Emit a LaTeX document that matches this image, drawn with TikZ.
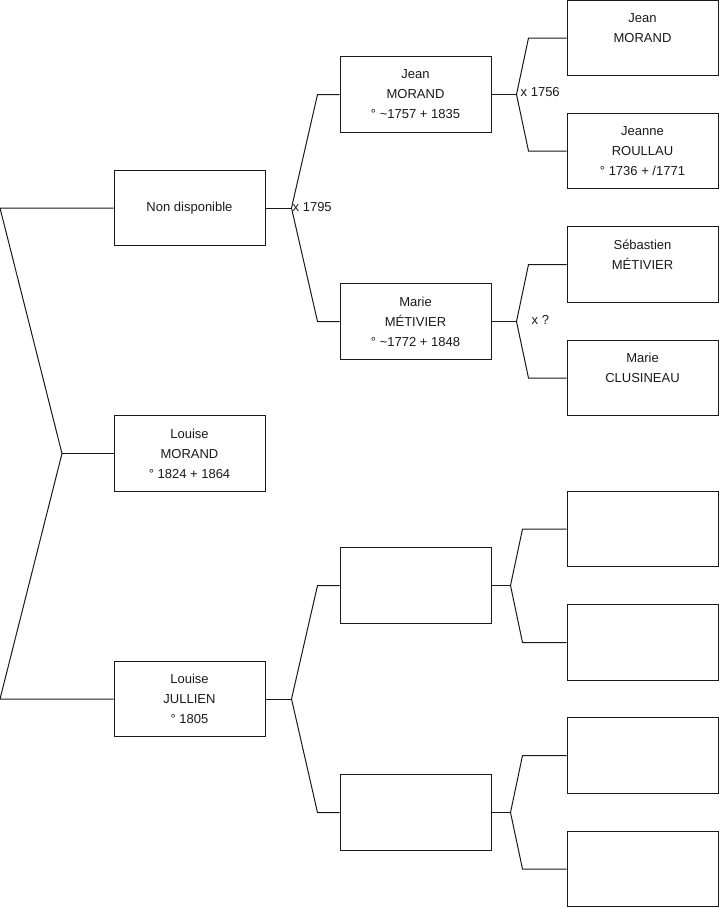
\documentclass[tikz,border=0pt]{standalone}
\usepackage{fontspec}
\setmainfont{Liberation Sans}
\begin{document}
\begin{tikzpicture}[x=1pt,y=-1pt,
  person/.style={draw=black!90, line width=1pt, minimum width=151pt, minimum height=75.5pt,
    inner sep=0pt, align=center, font=\fontsize{13}{20}\selectfont, text=black!90},
  link/.style={draw=black!90, line width=1pt},
  marr/.style={anchor=west, inner sep=0pt, font=\fontsize{13}{20}\selectfont, text=black!90}]
\useasboundingbox (0,0) rectangle (719,908);
% generation 1
\node[person] (nd) at (189.5,208) {Non disponible};
\node[person] (lm) at (189.5,453.5) {Louise\\MORAND\\° 1824 + 1864};
\node[person] (lj) at (189.5,699) {Louise\\JULLIEN\\° 1805};
% generation 2
\node[person] (jm) at (415.5,94.5) {Jean\\MORAND\\° \textasciitilde1757 + 1835};
\node[person] (mm) at (415.5,321.5) {Marie\\MÉTIVIER\\° \textasciitilde1772 + 1848};
\node[person] (e1) at (415.5,585.5) {};
\node[person] (e2) at (415.5,812.5) {};
% generation 3
\node[person] (gjm) at (642.5,38) {Jean\\MORAND\\\mbox{}};
\node[person] (jr) at (642.5,151) {Jeanne\\ROULLAU\\° 1736 + /1771};
\node[person] (sm) at (642.5,264.5) {Sébastien\\MÉTIVIER\\\mbox{}};
\node[person] (mc) at (642.5,378) {Marie\\CLUSINEAU\\\mbox{}};
\node[person] (f1) at (642.5,529) {};
\node[person] (f2) at (642.5,642.5) {};
\node[person] (f3) at (642.5,755.5) {};
\node[person] (f4) at (642.5,869) {};
% left bracket
\coordinate (L1) at (0,208);
\coordinate (L0) at (62,453.5);
\coordinate (L2) at (0,699);
\draw[link] (nd.west) -- (L1) -- (L0) -- (L2) -- (lj.west);
\draw[link] (L0) -- (lm.west);
% gen1 -> gen2
\coordinate (A1) at ([xshift=26pt]nd.east);
\draw[link] (nd.east) -- (A1);
\draw[link] (A1) -- ([xshift=-22pt]jm.west) -- (jm.west);
\draw[link] (A1) -- ([xshift=-22pt]mm.west) -- (mm.west);
\node[marr] (x1795) at ([xshift=1pt,yshift=1pt]A1) {x 1795};
\coordinate (A2) at ([xshift=26pt]lj.east);
\draw[link] (lj.east) -- (A2);
\draw[link] (A2) -- ([xshift=-22pt]e1.west) -- (e1.west);
\draw[link] (A2) -- ([xshift=-22pt]e2.west) -- (e2.west);
% gen2 -> gen3
\coordinate (B1) at ([xshift=25pt]jm.east);
\draw[link] (jm.east) -- (B1);
\draw[link] (B1) -- ([xshift=-38pt]gjm.west) -- (gjm.west);
\draw[link] (B1) -- ([xshift=-38pt]jr.west) -- (jr.west);
\node[marr] (x1756) at ([xshift=4pt,yshift=2.5pt]B1) {x 1756};
\coordinate (B2) at ([xshift=25pt]mm.east);
\draw[link] (mm.east) -- (B2);
\draw[link] (B2) -- ([xshift=-38pt]sm.west) -- (sm.west);
\draw[link] (B2) -- ([xshift=-38pt]mc.west) -- (mc.west);
\node[marr] (xq) at ([xshift=15pt,yshift=1.5pt]B2) {x ?};
\coordinate (B3) at ([xshift=19pt]e1.east);
\draw[link] (e1.east) -- (B3);
\draw[link] (B3) -- ([xshift=-44pt]f1.west) -- (f1.west);
\draw[link] (B3) -- ([xshift=-44pt]f2.west) -- (f2.west);
\coordinate (B4) at ([xshift=19pt]e2.east);
\draw[link] (e2.east) -- (B4);
\draw[link] (B4) -- ([xshift=-44pt]f3.west) -- (f3.west);
\draw[link] (B4) -- ([xshift=-44pt]f4.west) -- (f4.west);
\end{tikzpicture}
\end{document}
